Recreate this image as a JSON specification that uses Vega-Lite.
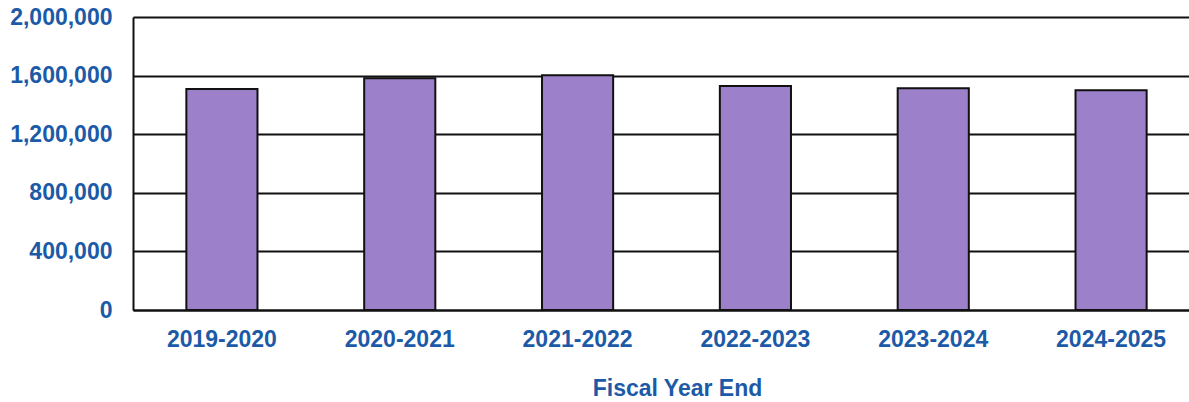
{
  "$schema": "https://vega.github.io/schema/vega-lite/v6.json",
  "width": 1067,
  "height": 293,
  "autosize": {"type": "none"},
  "padding": {"left": 133, "top": 17, "right": 0, "bottom": 92},
  "background": "white",
  "config": {
    "view": {"stroke": null},
    "font": "Liberation Sans"
  },
  "data": {
    "values": [
      {"year": "2019-2020", "value": 1509000},
      {"year": "2020-2021", "value": 1582000},
      {"year": "2021-2022", "value": 1603000},
      {"year": "2022-2023", "value": 1529000},
      {"year": "2023-2024", "value": 1513000},
      {"year": "2024-2025", "value": 1500000}
    ]
  },
  "mark": {"type": "bar", "fill": "#9C80CA", "stroke": "#111111", "strokeWidth": 2},
  "encoding": {
    "x": {
      "field": "year",
      "type": "nominal",
      "sort": null,
      "scale": {"paddingInner": 0.6, "paddingOuter": 0.3},
      "axis": {
        "title": "Fiscal Year End",
        "titleFont": "Liberation Sans",
        "titleFontWeight": "bold",
        "titleFontSize": 23,
        "titleColor": "#1C5AA8",
        "titleX": 544,
        "titleY": 78,
        "titleBaseline": "middle",
        "labelAngle": 0,
        "labelFont": "Liberation Sans",
        "labelFontWeight": "bold",
        "labelFontSize": 23,
        "labelColor": "#1C5AA8",
        "labelPadding": 18,
        "ticks": false,
        "domainColor": "#111111",
        "domainWidth": 2
      }
    },
    "y": {
      "field": "value",
      "type": "quantitative",
      "scale": {"domain": [0, 2000000], "nice": false},
      "axis": {
        "title": null,
        "values": [0, 400000, 800000, 1200000, 1600000, 2000000],
        "format": ",d",
        "labelFont": "Liberation Sans",
        "labelFontWeight": "bold",
        "labelFontSize": 23,
        "labelColor": "#1C5AA8",
        "labelPadding": 21,
        "ticks": false,
        "grid": true,
        "gridColor": "#111111",
        "gridWidth": 2,
        "gridOpacity": 1,
        "domainColor": "#111111",
        "domainWidth": 2
      }
    }
  }
}
